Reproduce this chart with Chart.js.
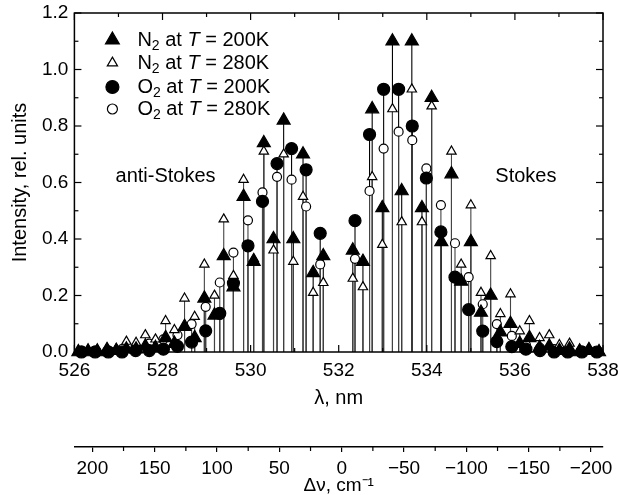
<!DOCTYPE html>
<html>
<head>
<meta charset="utf-8">
<script src="https://cdn.jsdelivr.net/npm/chart.js@4"></script>
<style>
  html, body { margin: 0; padding: 0; background: #fff; }
  #wrap { width: 620px; height: 495px; }
</style>
</head>
<body>
<div id="wrap"><canvas id="chart"></canvas></div>
<script>
// N2 rotational Raman lines: wavelength (nm) and relative intensity at two temperatures
const n2Wavelength = [526.09, 526.31, 526.52, 526.74, 526.95, 527.18, 527.40, 527.61, 527.84, 528.07, 528.27, 528.50, 528.73,
  528.95, 529.18, 529.39, 529.61, 529.84, 530.07, 530.30, 530.52, 530.75, 530.97, 531.19, 531.42, 531.65,
  532.32, 532.55, 532.76, 532.99, 533.22, 533.43, 533.66, 533.89, 534.11, 534.33, 534.56, 534.78, 535.00,
  535.23, 535.45, 535.67, 535.90, 536.11, 536.33, 536.56, 536.78, 537.01, 537.24, 537.47, 537.68, 537.91];
const n2At200 = [0, 0, 0, 0.005, 0.005, 0.01, 0.01, 0.02, 0.015, 0.05, 0.03, 0.09, 0.05,
  0.19, 0.13, 0.34, 0.23, 0.55, 0.32, 0.74, 0.40, 0.82, 0.40, 0.70, 0.28, 0.34,
  0.36, 0.32, 0.86, 0.51, 1.10, 0.57, 1.10, 0.51, 0.90, 0.39, 0.63, 0.25, 0.39,
  0.14, 0.20, 0.07, 0.10, 0.03, 0.05, 0.015, 0.02, 0.005, 0.01, 0, 0.005, 0];
const n2At280 = [0.005, 0.01, 0.01, 0.015, 0.01, 0.037, 0.033, 0.06, 0.045, 0.11, 0.078, 0.19, 0.125,
  0.31, 0.20, 0.47, 0.27, 0.61, 0.33, 0.71, 0.36, 0.70, 0.32, 0.55, 0.21, 0.245,
  0.26, 0.23, 0.62, 0.38, 0.86, 0.46, 0.93, 0.46, 0.87, 0.39, 0.71, 0.31, 0.52,
  0.21, 0.34, 0.135, 0.205, 0.074, 0.11, 0.05, 0.06, 0.025, 0.03, 0.01, 0.015, 0.005];

// O2 lines
const o2Wavelength = [526.16, 526.47, 526.77, 527.08, 527.39, 527.70, 528.02, 528.34, 528.66, 528.98, 529.30, 529.61,
  529.94, 530.27, 530.60, 530.93, 531.26, 531.58,
  532.37, 532.70, 533.02, 533.36, 533.67, 533.99, 534.32, 534.64, 534.95, 535.27, 535.59, 535.93,
  536.25, 536.57, 536.89, 537.20, 537.52, 537.86];
const o2At200 = [0, 0, 0, 0, 0.005, 0.005, 0.01, 0.02, 0.035, 0.075, 0.137, 0.244,
  0.376, 0.533, 0.667, 0.72, 0.645, 0.42,
  0.465, 0.77, 0.93, 0.93, 0.80, 0.616, 0.425, 0.265, 0.15, 0.074, 0.037, 0.019,
  0.01, 0.005, 0, 0, 0, 0];
const o2At280 = [0.005, 0.005, 0.005, 0.01, 0.015, 0.03, 0.045, 0.06, 0.099, 0.16, 0.246, 0.352,
  0.466, 0.565, 0.62, 0.61, 0.515, 0.31,
  0.33, 0.57, 0.72, 0.78, 0.75, 0.65, 0.52, 0.385, 0.265, 0.169, 0.099, 0.057,
  0.025, 0.015, 0.01, 0.005, 0.005, 0];

const xTicks = [526, 528, 530, 532, 534, 536, 538];
const yTicks = [0, 0.2, 0.4, 0.6, 0.8, 1.0, 1.2];
const shiftTicks = [200, 150, 100, 50, 0, -50, -100, -150, -200];

const FONT = "'Liberation Sans', Arial, Helvetica, sans-serif";
Chart.defaults.font.family = FONT;
Chart.defaults.color = '#000';

function pts(xs, ys) {
  return xs.map((x, i) => ({ x: x, y: ys[i] }));
}

const series = [
  { label: ['N', '2', ' at ', 'T', ' = 200K'], data: pts(n2Wavelength, n2At200), style: 'triangle', r: 7.5, fill: '#000', stem: '#000' },
  { label: ['N', '2', ' at ', 'T', ' = 280K'], data: pts(n2Wavelength, n2At280), style: 'triangle', r: 5.4, fill: '#fff', stem: '#444' },
  { label: ['O', '2', ' at ', 'T', ' = 200K'], data: pts(o2Wavelength, o2At200), style: 'circle', r: 6, fill: '#000', stem: '#000' },
  { label: ['O', '2', ' at ', 'T', ' = 280K'], data: pts(o2Wavelength, o2At280), style: 'circle', r: 4.5, fill: '#fff', stem: '#444' }
];

function line(ctx, x1, y1, x2, y2) {
  ctx.beginPath();
  ctx.moveTo(x1, y1);
  ctx.lineTo(x2, y2);
  ctx.stroke();
}

// no automatic room for overhanging tick labels, the layout padding handles it
function noOverhang(s) {
  s.paddingLeft = 0;
  s.paddingRight = 0;
  s.paddingTop = 0;
  s.paddingBottom = 0;
}

// stems, frame and inward ticks
const frame = {
  id: 'frame',
  beforeDatasetsDraw(chart) {
    const { ctx, chartArea: a, scales: { x, y, x2 } } = chart;
    ctx.save();
    const y0 = y.getPixelForValue(0);
    series.forEach((s, i) => {
      ctx.strokeStyle = s.stem;
      ctx.lineWidth = 1.1;
      chart.getDatasetMeta(i).data.forEach(p => line(ctx, p.x, y0, p.x, p.y));
    });
    ctx.strokeStyle = '#000';
    ctx.lineWidth = 1.5;
    ctx.strokeRect(a.left, a.top, a.width, a.height);
    ctx.lineWidth = 1.2;
    for (let v = 526; v <= 538; v++) {
      const px = x.getPixelForValue(v);
      const len = v % 2 === 0 ? 7 : 4;
      line(ctx, px, a.bottom, px, a.bottom - len);
      line(ctx, px, a.top, px, a.top + len);
    }
    for (let k = 0; k <= 12; k++) {
      const py = y.getPixelForValue(k / 10);
      const len = k % 2 === 0 ? 7 : 4;
      line(ctx, a.left, py, a.left + len, py);
      line(ctx, a.right, py, a.right - len, py);
    }
    // minor ticks on the wavenumber axis
    for (let v = -175; v <= 175; v += 50) {
      const px = x2.getPixelForValue(v);
      line(ctx, px, x2.top, px, x2.top + 4);
    }
    ctx.restore();
  },
  afterDraw(chart) {
    const { ctx, scales: { x, y } } = chart;
    ctx.save();
    ctx.fillStyle = '#000';
    ctx.textBaseline = 'middle';
    ctx.textAlign = 'center';
    ctx.font = '20px ' + FONT;
    ctx.fillText('anti-Stokes', x.getPixelForValue(528.07), y.getPixelForValue(0.62));
    ctx.fillText('Stokes', x.getPixelForValue(536.25), y.getPixelForValue(0.62));

    // legend
    const lx = chart.chartArea.left + 38;
    const rows = [40, 63, 87, 109];
    series.forEach((s, i) => {
      const ly = rows[i];
      ctx.fillStyle = s.fill;
      ctx.strokeStyle = '#000';
      ctx.lineWidth = 1.2;
      Chart.helpers.drawPoint(ctx, { pointStyle: s.style, radius: s.r + 0.5, rotation: 0, borderWidth: 1.2 }, lx, ly);
      ctx.fillStyle = '#000';
      ctx.textAlign = 'left';
      let tx = lx + 25;
      s.label.forEach((part, j) => {
        if (j === 1) {
          ctx.font = '14px ' + FONT;
          ctx.fillText(part, tx, ly + 6);
        } else if (j === 3) {
          ctx.font = 'italic 20px ' + FONT;
          ctx.fillText(part, tx, ly);
        } else {
          ctx.font = '20px ' + FONT;
          ctx.fillText(part, tx, ly);
        }
        tx += ctx.measureText(part).width;
      });
    });
    ctx.restore();
  }
};

new Chart(document.getElementById('chart'), {
  type: 'scatter',
  data: {
    datasets: series.map(s => ({
      label: s.label.join(''),
      data: s.data,
      pointStyle: s.style,
      pointRadius: s.r,
      pointBackgroundColor: s.fill,
      pointBorderColor: '#000',
      pointBorderWidth: 1.2,
      showLine: false,
      clip: false
    }))
  },
  options: {
    responsive: true,
    maintainAspectRatio: false,
    animation: false,
    events: [],
    layout: { padding: { top: 13, right: 17, left: 4, bottom: 0 } },
    plugins: {
      legend: { display: false },
      tooltip: { enabled: false }
    },
    scales: {
      x: {
        type: 'linear',
        position: 'bottom',
        min: 526,
        max: 538,
        afterBuildTicks: s => { s.ticks = xTicks.map(v => ({ value: v })); },
        afterFit: s => { noOverhang(s); s.height = 95; },
        grid: { display: false, drawTicks: false },
        border: { display: false },
        ticks: { font: { size: 19 }, padding: 7, autoSkip: false, maxRotation: 0 },
        title: { display: true, text: 'λ, nm', font: { size: 20 }, padding: { top: 0, bottom: 37 } }
      },
      x2: {
        type: 'linear',
        axis: 'x',
        position: 'bottom',
        min: -209.6,
        max: 214.4,
        reverse: true,
        afterBuildTicks: s => { s.ticks = shiftTicks.map(v => ({ value: v })); },
        afterFit: s => { noOverhang(s); s.height = 48; },
        grid: { display: true, drawOnChartArea: false, drawTicks: true, tickLength: 5, color: '#000', lineWidth: 1.2 },
        border: { display: true, color: '#000', width: 1.5 },
        ticks: {
          font: { size: 19, lineHeight: 1.1 }, padding: 6, autoSkip: false, maxRotation: 0,
          callback: v => v < 0 ? '\u2212' + Math.abs(v) : String(v)
        },
        title: { display: true, text: 'Δν, cm⁻¹', font: { size: 19, lineHeight: 1.0 }, padding: { top: 0, bottom: 0 } }
      },
      y: {
        min: 0,
        max: 1.2,
        afterBuildTicks: s => { s.ticks = yTicks.map(v => ({ value: v })); },
        afterFit: noOverhang,
        grid: { display: false, drawTicks: false },
        border: { display: false },
        ticks: { font: { size: 19 }, padding: 6, callback: v => Number(v).toFixed(1) },
        title: { display: true, text: 'Intensity, rel. units', font: { size: 20 }, padding: { bottom: 4 } }
      }
    }
  },
  plugins: [frame]
});
</script>
</body>
</html>
